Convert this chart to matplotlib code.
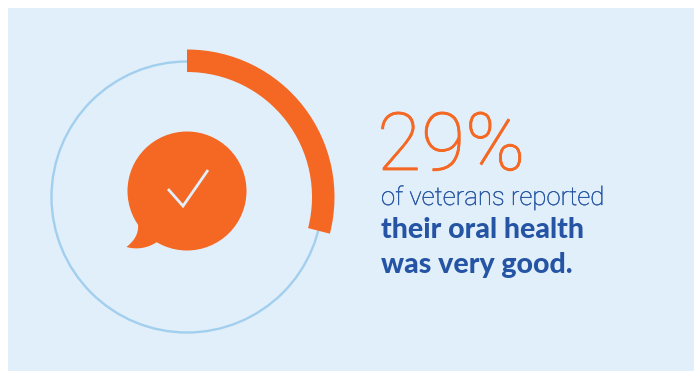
import numpy as np
import matplotlib
matplotlib.use('Agg')
import matplotlib.pyplot as plt
import matplotlib.patheffects as pe
from matplotlib.patches import Circle, Wedge, PathPatch, Rectangle
from matplotlib.path import Path

share = 29
headline = '29%'
line1 = 'of veterans reported'
line2 = 'their oral health'
line3 = 'was very good.'

ORANGE = '#F56823'
BLUE = '#2554A4'
BG = '#E1EFFA'
RING = '#A3CFEF'

fig = plt.figure(figsize=(6.94, 3.71), dpi=100)
ax = fig.add_axes([0, 0, 1, 1])
ax.set_xlim(0, 694)
ax.set_ylim(371, 0)
ax.axis('off')

ax.add_patch(Rectangle((8, 8), 686, 363, fc=BG, ec='none'))

cx, cy = 187, 197
ax.add_patch(Circle((cx, cy), 135.5, fc='none', ec=RING, lw=1.7))

# y axis is flipped, so the wedge runs clockwise from 12 o'clock in positive degrees
sweep = share / 100 * 360
ax.add_patch(Wedge((cx, cy), 147.5, -90, -90 + sweep, width=22.5, fc=ORANGE, ec='none'))

# speech bubble with tail
ax.add_patch(Circle((187, 191), 59.5, fc=ORANGE, ec='none'))
tail = Path([(138, 224), (139, 234), (134, 241), (126.5, 247),
             (137, 250), (148, 248), (157, 242), (138, 224)],
            [Path.MOVETO, Path.CURVE4, Path.CURVE4, Path.CURVE4,
             Path.CURVE4, Path.CURVE4, Path.CURVE4, Path.CLOSEPOLY])
ax.add_patch(PathPatch(tail, fc=ORANGE, ec='none'))

ax.plot([168, 183, 208], [189, 206, 170], color=BG, lw=2.0, solid_capstyle='butt', solid_joinstyle='miter')

# thin outline thickens the light weight a little
t = ax.text(377, 170, headline, color=ORANGE, fontsize=58, family='Roboto', weight='light', va='baseline')
t.set_path_effects([pe.withStroke(linewidth=0.6, foreground=ORANGE)])
t = ax.text(381, 205, line1, color=BLUE, fontsize=18.5, family='Roboto', weight='light', va='baseline')
t.set_path_effects([pe.withStroke(linewidth=0.25, foreground=BLUE)])
ax.text(381, 238, line2, color=BLUE, fontsize=20.5, family='Lato', weight='black', va='baseline')
ax.text(381, 273, line3, color=BLUE, fontsize=20.5, family='Lato', weight='black', va='baseline')

fig.savefig('out.png', dpi=100)
